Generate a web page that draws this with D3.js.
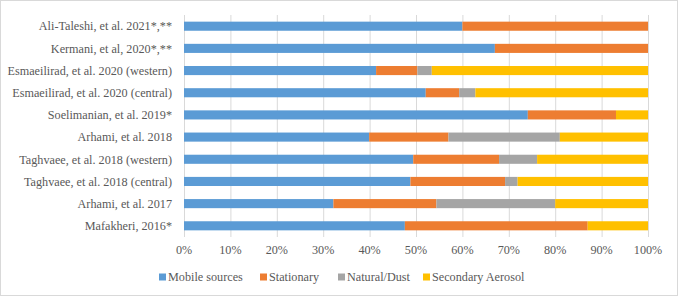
<!DOCTYPE html>
<html>
<head>
<meta charset="utf-8">
<script src="https://cdn.jsdelivr.net/npm/d3@7"></script>
<style>
  body { margin: 0; background: #fff; }
</style>
</head>
<body>
<div id="plot"></div>
<script>
// studies, top to bottom
const studies = [
  "Ali-Taleshi, et al. 2021*,**",
  "Kermani, et al, 2020*,**",
  "Esmaeilirad, et al. 2020 (western)",
  "Esmaeilirad, et al. 2020 (central)",
  "Soelimanian, et al. 2019*",
  "Arhami, et al. 2018",
  "Taghvaee, et al. 2018 (western)",
  "Taghvaee, et al. 2018 (central)",
  "Arhami, et al. 2017",
  "Mafakheri, 2016*"
];
const sources = ["Mobile sources", "Stationary", "Natural/Dust", "Secondary Aerosol"];
const mobile     = [60.0, 67.0, 41.4, 52.1, 74.1, 39.9, 49.4, 48.8, 32.2, 47.6];
const stationary = [40.0, 33.0,  8.9,  7.2, 19.0, 17.1, 18.5, 20.4, 22.2, 39.4];
const natural    = [ 0.0,  0.0,  3.1,  3.5,  0.0, 24.0,  8.2,  2.7, 25.6,  0.0];
const secondary  = [ 0.0,  0.0, 46.6, 37.2,  6.9, 19.0, 23.9, 28.1, 20.0, 13.0];
const colors = ["#5B9BD5", "#ED7D31", "#A5A5A5", "#FFC000"];
const xTicks = d3.range(0, 101, 10);

const width = 678, height = 296;
const margin = { top: 15, right: 30, bottom: 59, left: 184 };
const font = '"Liberation Serif"';

const svg = d3.select("#plot").append("svg")
  .attr("width", width)
  .attr("height", height);

svg.append("rect")
  .attr("x", 0.5).attr("y", 0.5)
  .attr("width", width - 1).attr("height", height - 1)
  .attr("fill", "#fff").attr("stroke", "#d9d9d9");

const rows = studies.map((s, i) => ({
  study: s,
  "Mobile sources": mobile[i],
  "Stationary": stationary[i],
  "Natural/Dust": natural[i],
  "Secondary Aerosol": secondary[i]
}));

const x = d3.scaleLinear().domain([0, 100]).range([margin.left, 648]);
const y = d3.scaleBand().domain(studies)
  .range([margin.top, height - margin.bottom])
  .paddingInner(0.59).paddingOuter(0.3);

// gridlines
svg.append("g")
  .selectAll("line")
  .data(xTicks)
  .join("line")
  .attr("x1", d => x(d) + 0.5).attr("x2", d => x(d) + 0.5)
  .attr("y1", margin.top).attr("y2", height - margin.bottom)
  .attr("stroke", "#d9d9d9");

const stack = d3.stack().keys(sources)(rows);

svg.append("g")
  .selectAll("g")
  .data(stack)
  .join("g")
  .attr("fill", (d, i) => colors[i])
  .selectAll("rect")
  .data(d => d)
  .join("rect")
  .attr("x", d => x(d[0]))
  .attr("width", d => x(d[1]) - x(d[0]))
  .attr("y", d => y(d.data.study))
  .attr("height", y.bandwidth());

// category labels
svg.append("g")
  .selectAll("text")
  .data(studies)
  .join("text")
  .attr("x", 172)
  .attr("y", d => y(d) + y.bandwidth() / 2)
  .attr("dy", "0.35em")
  .attr("text-anchor", "end")
  .style("font-family", font)
  .style("font-size", "12.2px")
  .attr("fill", "#595959")
  .text(d => d);

// x tick labels
svg.append("g")
  .selectAll("text")
  .data(xTicks)
  .join("text")
  .attr("x", d => x(d))
  .attr("y", 250)
  .attr("dy", "0.35em")
  .attr("text-anchor", "middle")
  .style("font-family", font)
  .style("font-size", "12.2px")
  .attr("fill", "#595959")
  .text(d => d + "%");

// legend
const legendX = [159, 260, 338, 423];
const legend = svg.append("g")
  .selectAll("g")
  .data(sources)
  .join("g")
  .attr("transform", (d, i) => `translate(${legendX[i]},277)`);

legend.append("rect")
  .attr("x", 0).attr("y", -3.5)
  .attr("width", 7).attr("height", 7)
  .attr("fill", (d, i) => colors[i]);

legend.append("text")
  .attr("x", 9)
  .attr("dy", "0.35em")
  .style("font-family", font)
  .style("font-size", "12.2px")
  .attr("fill", "#595959")
  .text(d => d);
</script>
</body>
</html>
